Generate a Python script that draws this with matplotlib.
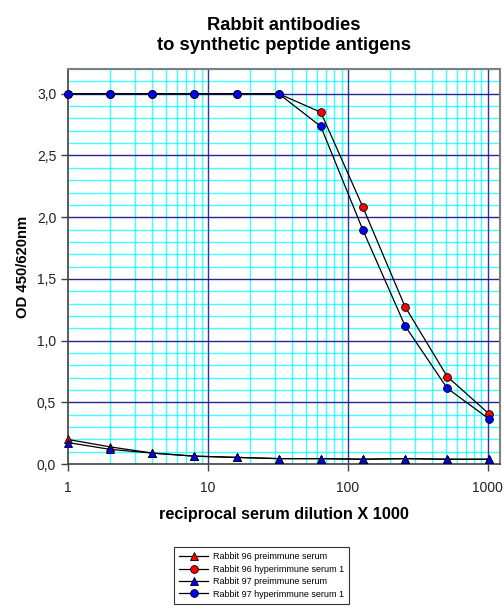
import matplotlib.pyplot as plt
from matplotlib.ticker import FixedLocator, NullFormatter, FuncFormatter

dilution = [1, 2, 4, 8, 16, 32, 64, 128, 256, 512, 1024]
pre_96 = [0.20, 0.14, 0.09, 0.065, 0.055, 0.045, 0.045, 0.04, 0.045, 0.04, 0.04]
hyper_96 = [3.0, 3.0, 3.0, 3.0, 3.0, 3.0, 2.85, 2.08, 1.275, 0.71, 0.405]
pre_97 = [0.175, 0.12, 0.09, 0.065, 0.055, 0.045, 0.045, 0.04, 0.045, 0.04, 0.04]
hyper_97 = [3.0, 3.0, 3.0, 3.0, 3.0, 3.0, 2.735, 1.895, 1.12, 0.615, 0.365]
labels = ["Rabbit 96 preimmune serum", "Rabbit 96 hyperimmune serum 1",
          "Rabbit 97 preimmune serum", "Rabbit 97 hyperimmune serum 1"]

plt.rcParams['font.family'] = ['Liberation Sans', 'DejaVu Sans']

fig = plt.figure(figsize=(5.04, 6.14), dpi=100)
ax = fig.add_axes([0.135, 0.244, 0.857, 0.6436])

series = [(pre_96, '^', 'red'), (hyper_96, 'o', 'red'),
          (pre_97, '^', 'blue'), (hyper_97, 'o', 'blue')]
for (vals, m, c), lab in zip(series, labels):
    ax.plot(dilution, vals, color='black', lw=0.9, marker=m,
            markersize=6.2 if m == '^' else 5.6,
            markerfacecolor=c, markeredgecolor='black', markeredgewidth=0.6,
            label=lab, zorder=3, clip_on=False)

ax.set_xscale('log')
ax.set_xlim(1, 1220)
ax.set_ylim(0, 3.2)

# grid: cyan minor, navy major
minor_x = [m * 10 ** d for d in range(4) for m in range(2, 10) if m * 10 ** d < 1220]
for x in minor_x:
    ax.axvline(x, color='#00ffff', lw=1.0, alpha=0.75, zorder=1)
for x in [10, 100, 1000]:
    ax.axvline(x, color='#000080', lw=1.0, alpha=0.8, zorder=1.5)
for i in range(1, 33):
    y = i / 10
    if i % 5 == 0:
        ax.axhline(y, color='#000080', lw=1.0, alpha=0.85, zorder=1.5)
    else:
        ax.axhline(y, color='#00ffff', lw=1.0, alpha=0.75, zorder=1)

ax.xaxis.set_major_locator(FixedLocator([1, 10, 100, 1000]))
ax.xaxis.set_minor_locator(FixedLocator([]))
ax.xaxis.set_minor_formatter(NullFormatter())
ax.xaxis.set_major_formatter(FuncFormatter(lambda v, p: f"{int(v)}"))
ax.set_yticks([0, 0.5, 1.0, 1.5, 2.0, 2.5, 3.0])
ax.yaxis.set_major_formatter(FuncFormatter(lambda v, p: f"{v:.1f}".replace('.', ',')))
ax.tick_params(axis='both', direction='out', length=5, width=1, color='#404040',
               labelsize=10, labelcolor='#222222')
ax.tick_params(axis='x', pad=7)

for side in ['left', 'bottom']:
    ax.spines[side].set_color('#404040')
    ax.spines[side].set_linewidth(1.2)
for side in ['top', 'right']:
    ax.spines[side].set_color('#808080')
    ax.spines[side].set_linewidth(1.5)

ax.set_xlabel('reciprocal serum dilution X 1000', fontsize=11.7, fontweight='bold', labelpad=9)
ax.set_ylabel('OD 450/620nm', fontsize=10.7, fontweight='bold', labelpad=5)
ax.set_title('Rabbit antibodies\nto synthetic peptide antigens', fontsize=13.2,
             fontweight='bold', pad=14, linespacing=1.2)

handles, labs = ax.get_legend_handles_labels()
leg = fig.legend(handles, labs, loc='upper left', bbox_to_anchor=(0.337, 0.116),
                 fontsize=6.5, frameon=True, fancybox=False, edgecolor='black',
                 handlelength=3.2, handletextpad=0.5, labelspacing=0.38,
                 borderpad=0.55, markerscale=1.0)
leg.get_frame().set_linewidth(0.8)

fig.savefig('out.png', dpi=100)
